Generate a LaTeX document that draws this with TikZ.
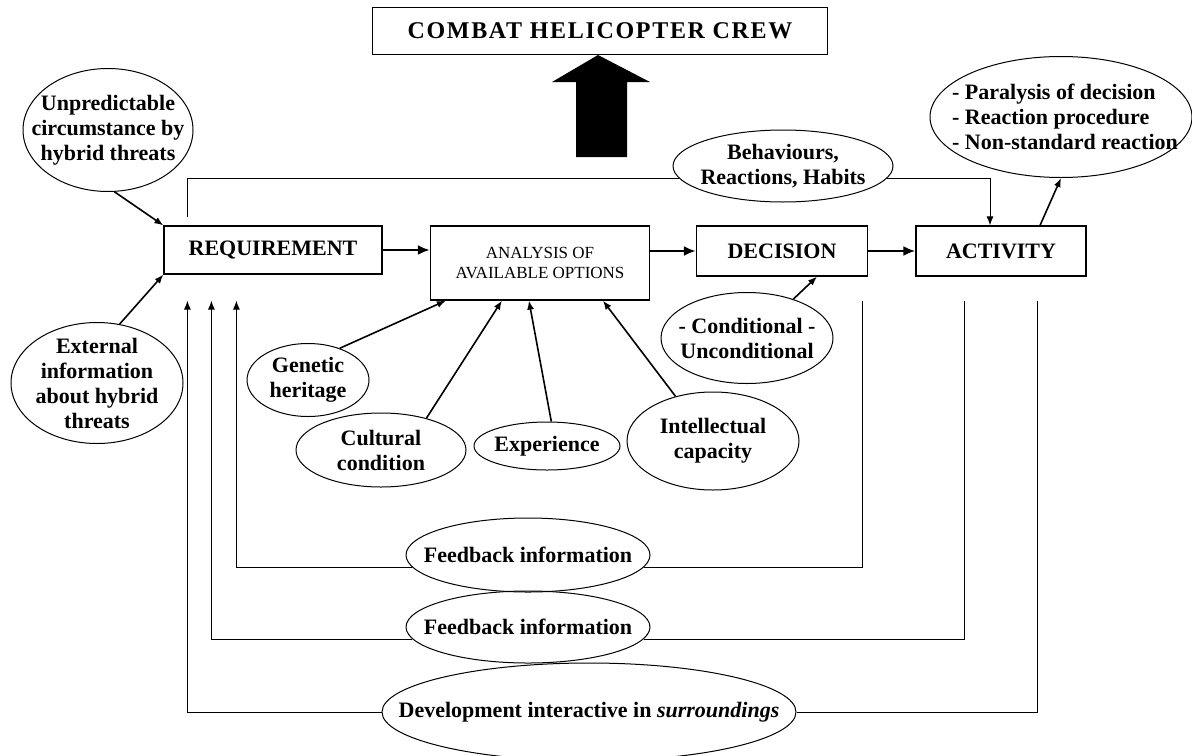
\documentclass[tikz,border=0pt]{standalone}
\usepackage{fontspec}
\setmainfont{Liberation Serif}
\usetikzlibrary{arrows.meta,shapes.geometric}
\newcommand{\bodyfont}{\fontsize{11pt}{12.5pt}\selectfont\bfseries}
\tikzset{
  box/.style={draw,line width=0.6pt,inner sep=0pt,font=\bodyfont},
  oval/.style={ellipse,draw,line width=0.5pt,inner sep=0pt},
  ovaltext/.style={font=\bodyfont,align=center,inner sep=0pt},
  flow/.style={-{Latex[length=6pt,width=5pt]},line width=1.4pt},
  link/.style={-{Latex[length=4.5pt,width=3.5pt]},line width=0.8pt},
  feed/.style={line width=0.5pt},
  feedin/.style={feed,-{Latex[length=4.5pt,width=3.5pt]}}
}
\begin{document}
\begin{tikzpicture}[x=0.5pt,y=-0.5pt]
  \useasboundingbox (0,0) rectangle (1192,755);
  \fill (552,82) -- (598,55) -- (650,82) -- (627,82) -- (627,157) -- (576,157) -- (576,82) -- cycle;
  \node[box,fill=white,minimum width=227.5pt,minimum height=23.5pt,
    font={\fontsize{12pt}{14pt}\selectfont\bfseries\addfontfeatures{LetterSpace=7}}]
    (crew) at (600,31) {COMBAT HELICOPTER CREW};
  \node[box,minimum width=109pt,minimum height=24pt] (req) at (273,250) {REQUIREMENT};
  \node[box,minimum width=109.5pt,minimum height=37pt,align=center,
    font={\fontsize{8.5pt}{10pt}\selectfont}] (ana) at (540,263) {ANALYSIS OF\\AVAILABLE OPTIONS};
  \node[box,minimum width=85.5pt,minimum height=25pt] (dec) at (782,251) {DECISION};
  \node[box,minimum width=85pt,minimum height=25pt] (act) at (1001,251) {ACTIVITY};
  \node[oval,minimum width=110pt,minimum height=36pt,
    label={[ovaltext]center:{Behaviours,\\Reactions, Habits}}] (habit) at (783,166) {};
  \node[oval,minimum width=131pt,minimum height=60.5pt,
    label={[ovaltext,align=left,xshift=2pt]center:{- Paralysis of decision\\- Reaction procedure\\- Non-standard reaction}}]
    (outcome) at (1061,117) {};
  \node[oval,minimum width=85pt,minimum height=61.5pt,
    label={[ovaltext]center:{Unpredictable\\circumstance by\\hybrid threats}}] (unpred) at (108,130) {};
  \node[oval,minimum width=86pt,minimum height=60.5pt,
    label={[ovaltext]center:{External\\information\\about hybrid\\threats}}] (extinfo) at (97,383) {};
  \node[oval,minimum width=61pt,minimum height=36.5pt,
    label={[ovaltext]center:{Genetic\\heritage}}] (genetic) at (308,380) {};
  \node[oval,minimum width=85pt,minimum height=37pt,
    label={[ovaltext]center:{Cultural\\condition}}] (cultural) at (381,450) {};
  \node[oval,minimum width=73pt,minimum height=24pt,
    label={[ovaltext]center:{Experience}}] (experience) at (547,446) {};
  \node[oval,minimum width=86pt,minimum height=49pt,
    label={[ovaltext]center:{Intellectual\\capacity}}] (intellect) at (713,441) {};
  \node[oval,minimum width=86pt,minimum height=45.5pt,
    label={[ovaltext]center:{- Conditional -\\Unconditional}}] (condition) at (747,338) {};
  \node[oval,minimum width=122pt,minimum height=37pt,
    label={[ovaltext]center:{Feedback information}}] (fb1) at (528,555) {};
  \node[oval,minimum width=122pt,minimum height=36pt,
    label={[ovaltext]center:{Feedback information}}] (fb2) at (528,627) {};
  \node[oval,minimum width=207pt,minimum height=49pt,
    label={[ovaltext]center:{Development interactive in \textit{surroundings}}}] (develop) at (589,712) {};
  % main chain
  \draw[flow] (req.east) -- (req.east -| ana.west);
  \draw[flow] (dec.west -| ana.east) -- (dec.west);
  \draw[flow] (dec.east) -- (act.west);
  % habits over the top
  \coordinate (habitfrom) at ([shift={(12pt,4pt)}]req.north west);
  \draw[feed] (habitfrom) |- (habit.187);
  \draw[feedin] (habit.-7) -| ([xshift=-5.5pt]act.north);
  \draw[link] ([xshift=19.5pt]act.north) -- (outcome.south);
  % inputs
  \draw[link] (unpred.-84) -- (req.north west);
  \draw[link] (extinfo.69) -- (req.south west);
  \draw[link] (genetic.45) -- ([xshift=8pt]ana.south west);
  \draw[link] (cultural.35) -- ([xshift=36pt]ana.south west);
  \draw[link] (experience.80) -- ([xshift=49.5pt]ana.south west);
  \draw[link] (intellect.130) -- ([xshift=86.5pt]ana.south west);
  \draw[link] (condition.40) -- ([xshift=17.5pt]dec.south);
  % feedback loops
  \coordinate (in1) at ([shift={(12pt,-13pt)}]req.south west);
  \coordinate (in2) at ([shift={(24pt,-13pt)}]req.south west);
  \coordinate (in3) at ([shift={(36.5pt,-13pt)}]req.south west);
  \coordinate (decout) at ([shift={(-3pt,-12pt)}]dec.south east);
  \coordinate (actout1) at ([shift={(24.5pt,-12pt)}]act.south west);
  \coordinate (actout2) at ([shift={(61pt,-12pt)}]act.south west);
  \draw[feed] (decout) |- (fb1.-6);
  \draw[feedin] (fb1.186) -| (in3);
  \draw[feed] (actout1) |- (fb2.-6);
  \draw[feedin] (fb2.186) -| (in2);
  \draw[feed] (actout2) |- (develop.east);
  \draw[feedin] (develop.west) -| (in1);
\end{tikzpicture}
\end{document}
